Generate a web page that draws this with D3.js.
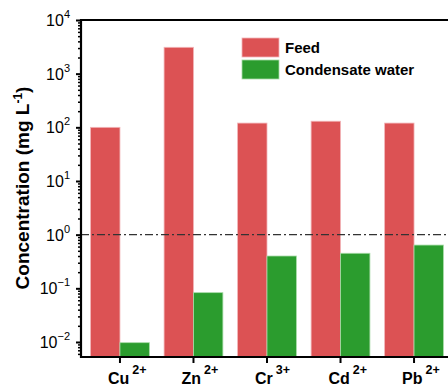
<!DOCTYPE html>
<html>
<head>
<meta charset="utf-8">
<script src="https://cdn.jsdelivr.net/npm/d3@7"></script>
<style>
  body { margin: 0; background: #fff; }
  svg { display: block; font-family: "Liberation Sans", Arial, sans-serif; }
</style>
</head>
<body>
<svg id="chart" width="448" height="387"></svg>
<script>
// Ion categories (base symbol + charge shown as superscript)
const ions = ["Cu", "Zn", "Cr", "Cd", "Pb"];
const charges = ["2+", "2+", "3+", "2+", "2+"];
const seriesNames = ["Feed", "Condensate water"];
// Concentrations in mg/L
const feed = [100, 3100, 120, 130, 120];
const condensate = [0.0097, 0.083, 0.40, 0.45, 0.64];
const yTickExps = [-2, -1, 0, 1, 2, 3, 4];
const colors = ["#dc5254", "#2b9c2e"];

const svg = d3.select("#chart");
const W = 448, H = 387;
const x0 = 81, x1 = 453;
const yTop = 20, yBot = 357;

const x = d3.scaleBand().domain(ions).range([x0, x1]).paddingInner(0.2).paddingOuter(0.13);
const xs = d3.scaleBand().domain(seriesNames).range([0, x.bandwidth()]);
const y = d3.scaleLog().domain([0.00525, 10000]).range([yBot, yTop]);

const rows = ions.map((ion, i) => ({ ion, vals: [feed[i], condensate[i]] }));

// Bars
const g = svg.append("g");
rows.forEach(r => {
  r.vals.forEach((v, j) => {
    g.append("rect")
      .attr("x", x(r.ion) + xs(seriesNames[j]))
      .attr("y", y(v))
      .attr("width", xs.bandwidth())
      .attr("height", yBot - y(v))
      .attr("fill", colors[j])
      .attr("stroke", j === 0 ? "#f2b5b8" : "#a8dba8")
      .attr("stroke-width", 0.8);
  });
});

// Reference line at 1 mg/L
svg.append("line")
  .attr("x1", x0).attr("x2", W)
  .attr("y1", y(1)).attr("y2", y(1))
  .attr("stroke", "#333").attr("stroke-width", 1.1)
  .attr("stroke-dasharray", "8,3,2,3");

// Y axis with major and minor log ticks
const minorTicks = y.ticks().filter(t => {
  const e = Math.log10(t);
  return Math.abs(e - Math.round(e)) > 1e-6;
});
const yAxisMinor = d3.axisLeft(y).tickValues(minorTicks).tickSize(3).tickFormat("");
svg.append("g").attr("transform", `translate(${x0},0)`).call(yAxisMinor)
  .call(a => a.select(".domain").remove())
  .selectAll("line").attr("stroke", "#000").attr("stroke-width", 1.5);

const yAxis = d3.axisLeft(y).tickValues(yTickExps.map(e => Math.pow(10, e))).tickSize(5).tickFormat("");
const ya = svg.append("g").attr("transform", `translate(${x0},0)`).call(yAxis);
ya.select(".domain").remove();
ya.selectAll("line").attr("stroke", "#000").attr("stroke-width", 2);

yTickExps.forEach(e => {
  const t = svg.append("text")
    .attr("x", 70).attr("y", y(Math.pow(10, e)) + 6)
    .attr("text-anchor", "end")
    .attr("font-size", 16).attr("fill", "#000");
  t.append("tspan").text("10");
  t.append("tspan").attr("dy", -8).attr("font-size", 11).text(e < 0 ? "\u2212" + (-e) : e);
});

// X axis ticks and labels
const xAxis = d3.axisBottom(x).tickSize(6).tickFormat("");
const xa = svg.append("g").attr("transform", `translate(0,${yBot})`).call(xAxis);
xa.select(".domain").remove();
xa.selectAll("line").attr("stroke", "#000").attr("stroke-width", 2);

ions.forEach((ion, i) => {
  const cx = x(ion) + x.bandwidth() / 2;
  const t = svg.append("text")
    .attr("x", cx - 12).attr("y", 384)
    .attr("font-size", 16).attr("font-weight", "bold").attr("fill", "#000");
  t.append("tspan").text(ion);
  t.append("tspan").attr("dx", 3).attr("dy", -10).attr("font-size", 12.5).text(charges[i]);
});

// Frame: left, bottom, top
svg.append("path")
  .attr("d", `M${W + 2},${yTop}H${x0}V${yBot}H${W + 2}`)
  .attr("fill", "none").attr("stroke", "#000").attr("stroke-width", 2.2);

// Y axis title
const yt = svg.append("text")
  .attr("transform", `translate(29,188) rotate(-90)`)
  .attr("text-anchor", "middle")
  .attr("font-size", 19).attr("font-weight", "bold").attr("fill", "#000");
yt.append("tspan").text("Concentration (mg L");
yt.append("tspan").attr("dy", -7).attr("font-size", 12).text("-1");
yt.append("tspan").attr("dy", 7).text(")");

// Legend
const leg = svg.append("g");
seriesNames.forEach((s, i) => {
  const ly = 38 + i * 22;
  leg.append("rect").attr("x", 242).attr("y", ly).attr("width", 37).attr("height", 19)
    .attr("fill", colors[i]).attr("stroke", i === 0 ? "#f2b5b8" : "#a8dba8").attr("stroke-width", 0.8);
  leg.append("text").attr("x", 285).attr("y", ly + 15)
    .attr("font-size", 15).attr("font-weight", "bold").attr("fill", "#000").text(s);
});
</script>
</body>
</html>
